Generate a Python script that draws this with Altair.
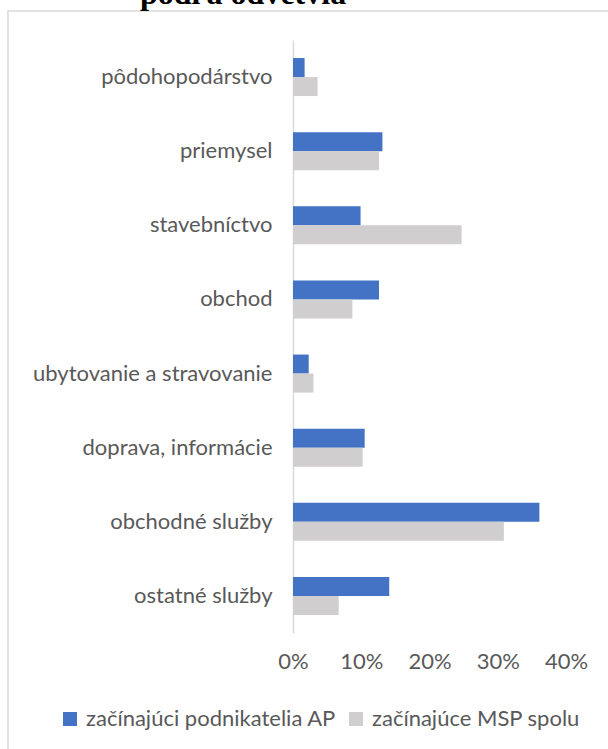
import altair as alt
import pandas as pd

# Sector shares of new businesses
categories = [
    "pôdohopodárstvo",
    "priemysel",
    "stavebníctvo",
    "obchod",
    "ubytovanie a stravovanie",
    "doprava, informácie",
    "obchodné služby",
    "ostatné služby",
]
series_names = ["začínajúci podnikatelia AP", "začínajúce MSP spolu"]
ap_values = [0.017, 0.131, 0.099, 0.126, 0.023, 0.105, 0.361, 0.141]
msp_values = [0.036, 0.126, 0.247, 0.087, 0.030, 0.102, 0.309, 0.067]
x_ticks = [0.0, 0.1, 0.2, 0.3, 0.4]
title_line = "podľa odvetvia"

rows = []
for cat, a, m in zip(categories, ap_values, msp_values):
    rows.append({"odvetvie": cat, "skupina": series_names[0], "podiel": a})
    rows.append({"odvetvie": cat, "skupina": series_names[1], "podiel": m})
df = pd.DataFrame(rows)

BLUE = "#4472C4"
GRAY = "#D0CECE"
TEXT = "#595959"
FONT = "Lato"
FS = 22

PLOT_W = 273
PLOT_H = 593

bars = alt.Chart(df).mark_bar().encode(
    y=alt.Y(
        "odvetvie:N",
        sort=categories,
        scale=alt.Scale(paddingInner=0.487, paddingOuter=0.2435),
        axis=alt.Axis(
            title=None,
            ticks=False,
            domainColor="#D9D9D9",
            domainWidth=1.5,
            labelFontSize=FS,
            labelColor=TEXT,
            labelFont=FONT,
            labelPadding=21,
            labelLimit=400,
        ),
    ),
    yOffset=alt.YOffset(
        "skupina:N",
        sort=series_names,
        scale=alt.Scale(paddingInner=0, paddingOuter=0),
    ),
    x=alt.X(
        "podiel:Q",
        scale=alt.Scale(domain=[0, 0.4], nice=False),
        axis=alt.Axis(
            title=None,
            format=".0%",
            values=x_ticks,
            domain=False,
            ticks=False,
            grid=False,
            labelFontSize=FS,
            labelColor=TEXT,
            labelFont=FONT,
            labelPadding=18,
            labelFlush=False,
        ),
    ),
    color=alt.Color(
        "skupina:N",
        sort=series_names,
        scale=alt.Scale(domain=series_names, range=[BLUE, GRAY]),
        legend=alt.Legend(
            title=None,
            orient="none",
            direction="horizontal",
            legendX=-234,
            legendY=668,
            symbolType="square",
            symbolSize=196,
            symbolStrokeWidth=0,
            symbolOpacity=1,
            labelFontSize=FS,
            labelColor=TEXT,
            labelFont=FONT,
            labelOffset=5,
            columnPadding=8,
            labelLimit=400,
            padding=0,
        ),
    ),
)

# Outer frame of the chart box
frame = alt.Chart(pd.DataFrame({"k": [0]})).mark_rect(
    fill=None, stroke="#D9D9D9", strokeWidth=1.5
).encode(
    x=alt.value(-285),
    x2=alt.value(700),
    y=alt.value(-29),
    y2=alt.value(900),
)

# Last line of the heading, above the frame
heading = alt.Chart(pd.DataFrame({"t": [title_line]})).mark_text(
    font="Liberation Serif",
    fontWeight="bold",
    fontSize=32,
    align="left",
    baseline="alphabetic",
    color="#000000",
).encode(
    text="t:N",
    x=alt.value(-153),
    y=alt.value(-36.5),
)

chart = (
    alt.layer(frame, heading, bars)
    .properties(
        width=PLOT_W,
        height=PLOT_H,
        autosize=alt.AutoSizeParams(type="none"),
        padding={"left": 293, "top": 40, "right": 42, "bottom": 116},
        background="white",
    )
    .configure_view(stroke=None)
)

chart.save("out.html", embed_options={"renderer": "svg", "actions": False})
